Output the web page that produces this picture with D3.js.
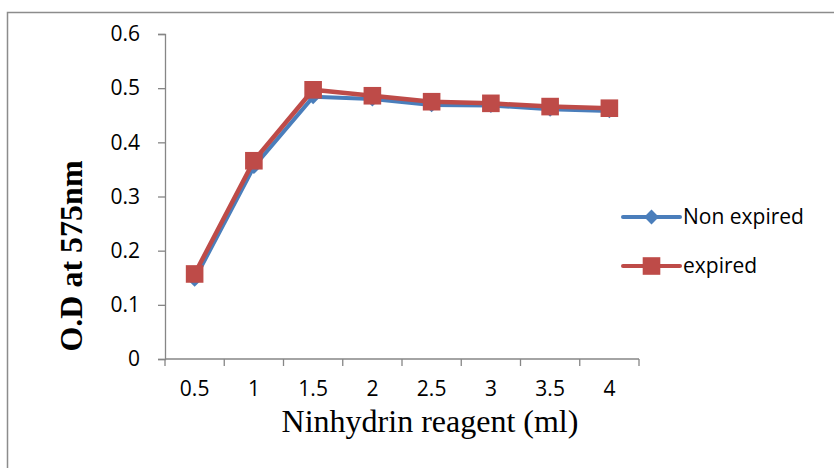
<!DOCTYPE html>
<html>
<head>
<meta charset="utf-8">
<script src="https://cdn.jsdelivr.net/npm/d3@7"></script>
<style>
  body { margin: 0; background: #fff; }
  svg { display: block; }
</style>
</head>
<body>
<div id="chart"></div>
<script>
const categories = ['0.5', '1', '1.5', '2', '2.5', '3', '3.5', '4'];
const nonExpired = [0.147, 0.355, 0.484, 0.480, 0.469, 0.468, 0.461, 0.458];
const expired = [0.157, 0.366, 0.497, 0.486, 0.475, 0.472, 0.466, 0.463];
const yTicks = [0, 0.1, 0.2, 0.3, 0.4, 0.5, 0.6];

const width = 834;
const height = 468;
const plot = { left: 165, right: 639, top: 34, bottom: 359 };
const blue = '#4a7ebb';
const red = '#be4b48';
const axisColor = '#868686';
const tickFont = '"Open Sans", sans-serif';
const titleFont = '"Liberation Serif", "Times New Roman", serif';

const svg = d3.select('#chart')
  .append('svg')
  .attr('width', width)
  .attr('height', height);

// outer frame (runs off the right and bottom edges)
svg.append('rect')
  .attr('x', 7.5).attr('y', 12.5)
  .attr('width', 900).attr('height', 600)
  .attr('fill', 'none')
  .attr('stroke', '#8c8c8c')
  .attr('stroke-width', 1.5);

const x = d3.scaleBand()
  .domain(categories)
  .range([plot.left, plot.right]);

const y = d3.scaleLinear()
  .domain([0, 0.6])
  .range([plot.bottom, plot.top]);

// y axis
const yAxis = svg.append('g')
  .attr('transform', `translate(${plot.left}, 0)`)
  .call(d3.axisLeft(y).tickValues(yTicks).tickSize(7).tickPadding(18)
    .tickFormat(d => d === 0 ? '0' : d3.format('.1f')(d)));
yAxis.select('.domain').attr('stroke', axisColor).attr('stroke-width', 1.3);
yAxis.selectAll('.tick line').attr('stroke', axisColor).attr('stroke-width', 1.3);
yAxis.selectAll('.tick text')
  .attr('fill', '#000')
  .style('font-family', tickFont)
  .style('font-size', '21px');

// x axis: ticks between categories
const xAxis = svg.append('g')
  .attr('transform', `translate(0, ${plot.bottom})`)
  .call(d3.axisBottom(x).tickSize(0).tickPadding(22));
xAxis.select('.domain').remove();
xAxis.append('line')
  .attr('x1', plot.left).attr('x2', plot.right)
  .attr('stroke', axisColor).attr('stroke-width', 1.3);
const edges = categories.map(c => x(c)).concat([x(categories[categories.length - 1]) + x.bandwidth()]);
xAxis.selectAll('.edge')
  .data(edges)
  .enter()
  .append('line')
  .attr('x1', d => d).attr('x2', d => d)
  .attr('y1', 0).attr('y2', 7)
  .attr('stroke', axisColor).attr('stroke-width', 1.3);
xAxis.selectAll('.tick text')
  .attr('fill', '#000')
  .style('font-family', tickFont)
  .style('font-size', '21px');

// axis titles
svg.append('text')
  .attr('x', 430).attr('y', 432)
  .attr('text-anchor', 'middle')
  .style('font-family', titleFont)
  .style('font-size', '32px')
  .text('Ninhydrin reagent (ml)');

svg.append('text')
  .attr('transform', 'translate(82, 256) rotate(-90)')
  .attr('text-anchor', 'middle')
  .style('font-family', titleFont)
  .style('font-size', '32px')
  .style('font-weight', 'bold')
  .text('O.D at 575nm');

const cx = (d, i) => x(categories[i]) + x.bandwidth() / 2;

const line = d3.line()
  .x((d, i) => cx(d, i))
  .y(d => y(d));

const diamond = d3.symbol().type(d3.symbolDiamond2).size(140);
const square = d3.symbol().type(d3.symbolSquare).size(310);

// Non expired series
svg.append('path')
  .datum(nonExpired)
  .attr('d', line)
  .attr('fill', 'none')
  .attr('stroke', blue)
  .attr('stroke-width', 4)
  .attr('stroke-linejoin', 'round');
svg.selectAll('.m-blue')
  .data(nonExpired)
  .enter()
  .append('path')
  .attr('class', 'm-blue')
  .attr('d', diamond)
  .attr('transform', (d, i) => `translate(${cx(d, i)}, ${y(d)})`)
  .attr('fill', blue);

// expired series
svg.append('path')
  .datum(expired)
  .attr('d', line)
  .attr('fill', 'none')
  .attr('stroke', red)
  .attr('stroke-width', 4.5)
  .attr('stroke-linejoin', 'round');
svg.selectAll('.m-red')
  .data(expired)
  .enter()
  .append('path')
  .attr('class', 'm-red')
  .attr('d', square)
  .attr('transform', (d, i) => `translate(${cx(d, i)}, ${y(d)})`)
  .attr('fill', red);

// legend
const legendItems = [
  { name: 'Non expired', color: blue, symbol: diamond, y: 217 },
  { name: 'expired', color: red, symbol: square, y: 266 }
];
const legend = svg.selectAll('.legend')
  .data(legendItems)
  .enter()
  .append('g')
  .attr('transform', d => `translate(623, ${d.y})`);
legend.append('line')
  .attr('x1', 0).attr('x2', 57)
  .attr('stroke', d => d.color)
  .attr('stroke-width', 4)
  .attr('stroke-linecap', 'round');
legend.append('path')
  .attr('d', d => d.symbol())
  .attr('transform', 'translate(28.5, 0)')
  .attr('fill', d => d.color);
legend.append('text')
  .attr('x', 60)
  .attr('dy', '0.35em')
  .style('font-family', tickFont)
  .style('font-size', '21px')
  .text(d => d.name);
</script>
</body>
</html>
